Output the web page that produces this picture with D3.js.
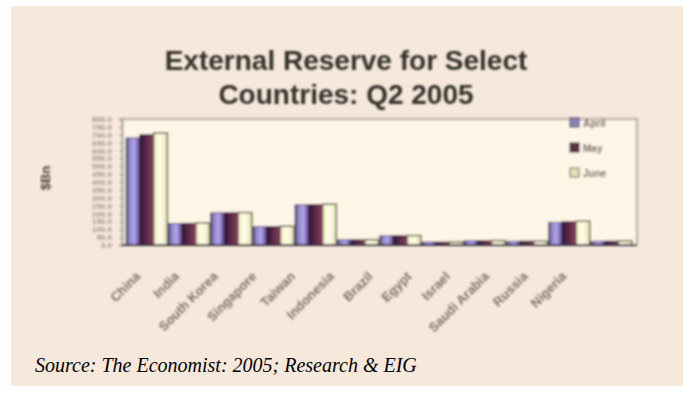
<!DOCTYPE html>
<html>
<head>
<meta charset="utf-8">
<script src="https://cdn.jsdelivr.net/npm/d3@7/dist/d3.min.js"></script>
<style>
  html, body { margin: 0; padding: 0; background: #ffffff; }
  svg { display: block; }
</style>
</head>
<body>
<div id="chart"></div>
<script>
// External reserves, US$ bn, April–June 2005
const countries = ["China", "India", "South Korea", "Singapore", "Taiwan", "Indonesia",
                   "Brazil", "Egypt", "Israel", "Saudi Arabia", "Russia", "Nigeria"];
const months = ["April", "May", "June"];
const april = [680, 136, 204, 117, 255, 33, 58, 19, 27, 24, 144, 24];
const may   = [700, 138, 205, 118, 257, 33, 59, 19, 27, 25, 148, 25];
const june  = [711, 140, 206, 119, 259, 34, 60, 20, 28, 25, 151, 26];
const yTicks = [0, 50, 100, 150, 200, 250, 300, 350, 400, 450, 500, 550, 600, 650, 700, 750, 800];

const titleLines = ["External Reserve for Select", "Countries: Q2 2005"];
const yLabel = "$Bn";
const sourceNote = "Source: The Economist: 2005; Research & EIG";

const series = [april, may, june];
const rows = countries.map((c, i) => ({ country: c, values: months.map((m, k) => ({ month: m, value: series[k][i] })) }));

const W = 683, H = 393;
const plot = { left: 122, right: 637, top: 119, bottom: 245 };

const svg = d3.select("#chart").append("svg").attr("width", W).attr("height", H);
const defs = svg.append("defs");

// soft focus on the chart body
defs.append("filter").attr("id", "soft").attr("x", "-5%").attr("y", "-5%").attr("width", "110%").attr("height", "110%")
  .append("feGaussianBlur").attr("stdDeviation", 1.1);

function hGrad(id, stops) {
  const g = defs.append("linearGradient").attr("id", id).attr("x1", "0").attr("x2", "1").attr("y1", "0").attr("y2", "0");
  stops.forEach(([o, c]) => g.append("stop").attr("offset", o).attr("stop-color", c));
}
hGrad("gApril", [[0, "#45406a"], [0.25, "#8e86c8"], [0.6, "#b4a6ec"], [1, "#5a4486"]]);
hGrad("gMay", [[0, "#2a1636"], [0.45, "#5c2848"], [1, "#8a3c5e"]]);
hGrad("gJune", [[0, "#f2efc8"], [0.5, "#fffde8"], [1, "#e4e0b4"]]);
const fills = { April: "url(#gApril)", May: "url(#gMay)", June: "url(#gJune)" };
const strokes = { April: "#4a4070", May: "#3a1a3a", June: "#6e6a48" };
const swatch = { April: "#8a84b0", May: "#5a3040", June: "#e6e2bc" };

// page panel
svg.append("rect").attr("x", 0).attr("y", 0).attr("width", W).attr("height", H).attr("fill", "#ffffff");
svg.append("rect").attr("x", 11).attr("y", 6).attr("width", W - 11).attr("height", 380).attr("fill", "#f6e8db");

const body = svg.append("g").attr("filter", "url(#soft)");

// title
body.append("text")
  .attr("x", 346).attr("y", 70)
  .attr("text-anchor", "middle")
  .attr("font-family", "'Liberation Sans', Arial, sans-serif")
  .attr("font-weight", "bold").attr("font-size", 28)
  .attr("fill", "#34302c")
  .selectAll("tspan").data(titleLines).join("tspan")
  .attr("x", 346).attr("dy", (d, i) => i === 0 ? 0 : 34)
  .text(d => d);

// scales
const x0 = d3.scaleBand().domain(countries).range([126, 632]).paddingInner(0.02);
const x1 = d3.scaleBand().domain(months).range([0, x0.bandwidth()]);
const y = d3.scaleLinear().domain([0, 800]).range([plot.bottom, plot.top]);
const labelPos = d3.scalePoint().domain(countries).range([138, 564]);

// plot area
body.append("rect")
  .attr("x", plot.left).attr("y", plot.top)
  .attr("width", plot.right - plot.left).attr("height", plot.bottom - plot.top)
  .attr("fill", "#fdf6e7");
body.append("path")
  .attr("d", `M${plot.left},${plot.top}H${plot.right}V${plot.bottom}`)
  .attr("fill", "none").attr("stroke", "#c4b6a8").attr("stroke-width", 2.5);

// y axis
const yAxis = body.append("g").attr("transform", `translate(${plot.left},0)`)
  .call(d3.axisLeft(y).tickValues(yTicks).tickFormat(d3.format(".1f")).tickSize(3));
yAxis.select(".domain").attr("stroke", "#a89c90").attr("stroke-width", 2);
yAxis.selectAll(".tick line").attr("stroke", "#a89c90");
yAxis.selectAll(".tick text")
  .attr("font-family", "'Liberation Sans', Arial, sans-serif")
  .attr("font-weight", "bold")
  .attr("font-size", 8).attr("fill", "#a29588").attr("x", -10);

body.append("text")
  .attr("transform", `translate(50,178) rotate(-90)`)
  .attr("text-anchor", "middle")
  .attr("font-family", "'Liberation Sans', Arial, sans-serif")
  .attr("font-weight", "bold").attr("font-size", 13)
  .attr("fill", "#4a4038")
  .text(yLabel);

// bars
const groups = body.append("g").selectAll("g").data(rows).join("g")
  .attr("transform", d => `translate(${x0(d.country)},0)`);
groups.selectAll("rect").data(d => d.values).join("rect")
  .attr("x", d => x1(d.month))
  .attr("width", x1.bandwidth())
  .attr("y", d => y(d.value))
  .attr("height", d => y(0) - y(d.value))
  .attr("fill", d => fills[d.month])
  .attr("stroke", d => strokes[d.month])
  .attr("stroke-width", d => d.month === "June" ? 1.6 : 0.8);

// baseline
body.append("line")
  .attr("x1", plot.left).attr("x2", plot.right)
  .attr("y1", plot.bottom).attr("y2", plot.bottom)
  .attr("stroke", "#3e3440").attr("stroke-width", 2);

// category labels
body.append("g").selectAll("text").data(countries).join("text")
  .attr("transform", d => `translate(${labelPos(d)},274) rotate(-45)`)
  .attr("text-anchor", "end")
  .attr("dy", "0.35em")
  .attr("font-family", "'Liberation Sans', Arial, sans-serif")
  .attr("font-weight", "bold").attr("font-size", 13)
  .attr("fill", "#7e7268")
  .text(d => d);

// legend
const legend = body.append("g").selectAll("g").data(months).join("g")
  .attr("transform", (d, i) => `translate(570,${118 + i * 25})`);
legend.append("rect")
  .attr("width", 9).attr("height", 9)
  .attr("fill", d => swatch[d]).attr("stroke", d => strokes[d]).attr("stroke-width", 1);
legend.append("text")
  .attr("x", 13).attr("y", 8.5)
  .attr("font-family", "'Liberation Sans', Arial, sans-serif")
  .attr("font-weight", "bold").attr("font-size", 10)
  .attr("fill", "#6e6254")
  .text(d => d);

// source note
svg.append("text")
  .attr("x", 35).attr("y", 372)
  .attr("font-family", "'Liberation Serif', 'Times New Roman', serif")
  .attr("font-style", "italic").attr("font-size", 20)
  .attr("fill", "#000000")
  .text(sourceNote);
</script>
</body>
</html>
